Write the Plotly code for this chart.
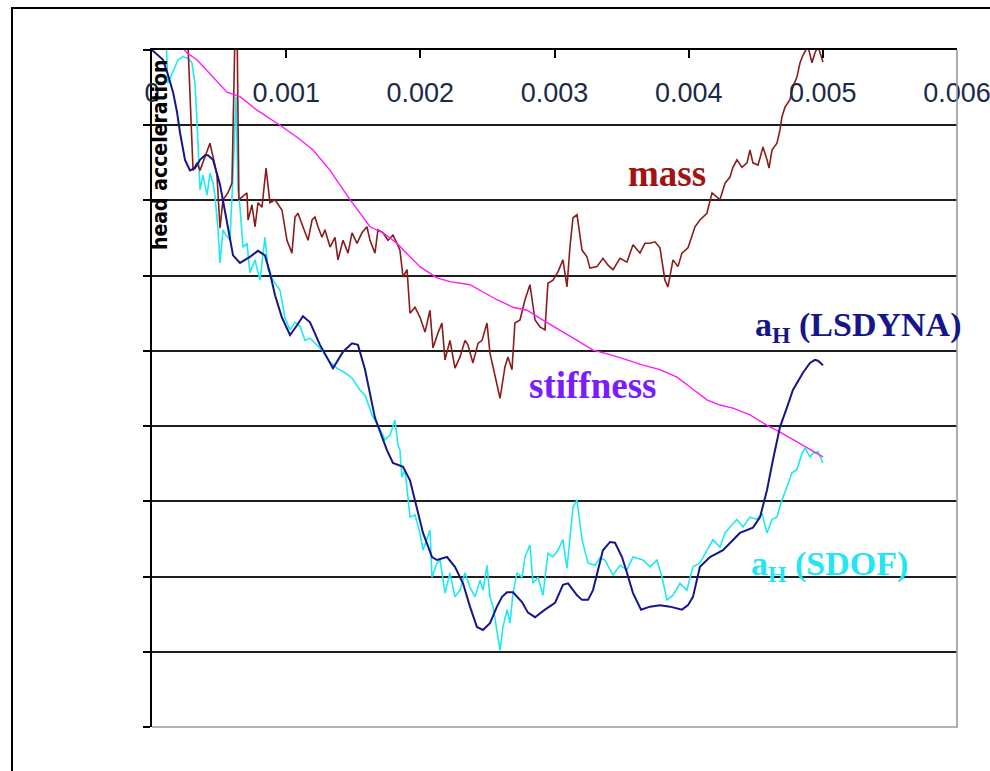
import plotly.graph_objects as go

# Time axis in milliseconds (converted to seconds when plotted), head acceleration in arbitrary units
# --- a_H (LSDYNA) ---
t_lsdyna = [0.0, 0.082, 0.119, 0.157, 0.186, 0.209, 0.246, 0.283, 0.320, 0.358, 0.395, 0.417, 0.455,
            0.507, 0.559, 0.604, 0.656, 0.730, 0.790, 0.842, 0.879, 0.917, 0.969, 1.029, 1.081, 1.125,
            1.178, 1.252, 1.349, 1.424, 1.491, 1.535, 1.588, 1.662, 1.722, 1.751, 1.796, 1.871, 1.923,
            1.975, 2.020, 2.087, 2.124, 2.199, 2.258, 2.318, 2.370, 2.422, 2.467, 2.519, 2.571, 2.609,
            2.646, 2.691, 2.758, 2.802, 2.855, 2.929, 3.004, 3.063, 3.101, 3.168, 3.205, 3.250, 3.287,
            3.361, 3.414, 3.451, 3.503, 3.540, 3.585, 3.645, 3.712, 3.786, 3.861, 3.950, 3.995, 4.032,
            4.084, 4.159, 4.256, 4.382, 4.479, 4.532, 4.584, 4.628, 4.681, 4.733, 4.777, 4.852, 4.904,
            4.941, 4.964, 5.001]
a_lsdyna = [0, -13, -33, -56, -82, -110, -146, -160, -157, -146, -140, -140, -146,
            -179, -229, -273, -283, -275, -267, -273, -296, -326, -356, -379, -366, -354,
            -362, -392, -423, -401, -390, -392, -425, -489, -518, -532, -549, -554, -572,
            -608, -642, -674, -678, -674, -687, -709, -740, -767, -771, -762, -740, -727,
            -721, -721, -734, -748, -754, -744, -735, -711, -709, -725, -731, -731, -718,
            -665, -654, -655, -674, -695, -722, -744, -740, -738, -740, -744, -738, -727,
            -687, -674, -665, -642, -635, -621, -585, -545, -501, -475, -452, -429, -416,
            -412, -413, -419]

# --- a_H (SDOF) ---
t_sdof = [0.0, 0.104, 0.119, 0.157, 0.194, 0.231, 0.268, 0.298, 0.320, 0.335, 0.350, 0.358, 0.380,
          0.410, 0.432, 0.455, 0.470, 0.492, 0.507, 0.529, 0.552, 0.581, 0.604, 0.626, 0.641, 0.656,
          0.678, 0.708, 0.730, 0.768, 0.805, 0.842, 0.865, 0.902, 0.954, 0.991, 1.029, 1.066, 1.103,
          1.140, 1.178, 1.215, 1.267, 1.327, 1.379, 1.438, 1.491, 1.550, 1.588, 1.640, 1.684, 1.737,
          1.774, 1.811, 1.833, 1.848, 1.863, 1.886, 1.923, 1.960, 1.997, 2.020, 2.072, 2.087, 2.124,
          2.147, 2.184, 2.221, 2.258, 2.296, 2.333, 2.370, 2.407, 2.445, 2.467, 2.497, 2.519, 2.542,
          2.571, 2.594, 2.616, 2.646, 2.668, 2.691, 2.720, 2.758, 2.780, 2.817, 2.840, 2.877, 2.914,
          2.951, 2.989, 3.026, 3.063, 3.093, 3.138, 3.168, 3.205, 3.250, 3.302, 3.339, 3.376, 3.436,
          3.488, 3.540, 3.585, 3.659, 3.712, 3.764, 3.801, 3.838, 3.883, 3.935, 3.987, 4.032, 4.084,
          4.136, 4.181, 4.233, 4.271, 4.308, 4.360, 4.405, 4.457, 4.509, 4.546, 4.584, 4.621, 4.658,
          4.695, 4.733, 4.770, 4.807, 4.845, 4.867, 4.904, 4.927, 4.964, 5.001]
a_sdof = [20, 16, -44, -27, -13, -9, -11, -17, -44, -93, -146, -186, -166,
          -193, -164, -177, -195, -239, -283, -239, -246, -253, -166, -62, -186, -209,
          -262, -257, -296, -279, -306, -249, -292, -306, -319, -356, -372, -362, -367,
          -386, -383, -390, -399, -415, -423, -429, -436, -452, -459, -485, -499, -518,
          -512, -492, -525, -532, -568, -558, -621, -618, -642, -665, -638, -701, -682,
          -678, -722, -695, -727, -718, -695, -714, -727, -705, -718, -685, -727, -740,
          -771, -798, -767, -744, -762, -722, -695, -701, -674, -658, -709, -701, -725,
          -669, -674, -665, -651, -689, -608, -598, -651, -682, -685, -675, -678, -698,
          -685, -691, -674, -678, -687, -678, -701, -731, -725, -709, -718, -687, -682,
          -665, -651, -661, -642, -634, -624, -634, -621, -624, -616, -642, -624, -621,
          -598, -581, -562, -558, -536, -529, -541, -536, -534, -549]

# --- stiffness ---
t_stiff = [0.209, 0.261, 0.335, 0.455, 0.559, 0.656, 0.783, 0.954, 1.081, 1.200, 1.327, 1.476, 1.625,
           1.722, 1.826, 1.923, 1.997, 2.124, 2.221, 2.370, 2.467, 2.571, 2.691, 2.795, 2.914, 3.041,
           3.168, 3.287, 3.414, 3.540, 3.659, 3.786, 3.913, 4.010, 4.136, 4.233, 4.330, 4.457, 4.584,
           4.681, 4.777, 4.882, 5.001]
a_stiff = [7, -4, -13, -36, -56, -62, -80, -100, -116, -133, -160, -199, -235,
           -243, -257, -275, -288, -303, -308, -312, -322, -332, -342, -346, -359, -372,
           -386, -399, -405, -412, -419, -425, -435, -448, -465, -472, -476, -485, -499,
           -508, -518, -528, -541]

# --- mass ---
t_mass = [0.060, 0.171, 0.268, 0.306, 0.335, 0.358, 0.395, 0.432, 0.455, 0.484, 0.507, 0.529, 0.566,
          0.596, 0.619, 0.634, 0.648, 0.678, 0.708, 0.716, 0.745, 0.768, 0.790, 0.820, 0.850, 0.879,
          0.917, 0.932, 0.969, 1.006, 1.043, 1.066, 1.088, 1.125, 1.163, 1.193, 1.215, 1.237, 1.267,
          1.289, 1.327, 1.364, 1.386, 1.424, 1.461, 1.491, 1.528, 1.565, 1.602, 1.625, 1.662, 1.684,
          1.722, 1.759, 1.796, 1.826, 1.848, 1.871, 1.901, 1.923, 1.960, 1.997, 2.035, 2.072, 2.094,
          2.132, 2.161, 2.184, 2.221, 2.258, 2.296, 2.333, 2.355, 2.392, 2.430, 2.460, 2.497, 2.519,
          2.556, 2.594, 2.631, 2.653, 2.683, 2.705, 2.743, 2.780, 2.817, 2.855, 2.892, 2.929, 2.951,
          2.989, 3.026, 3.063, 3.093, 3.115, 3.138, 3.168, 3.205, 3.242, 3.264, 3.317, 3.361, 3.399,
          3.436, 3.488, 3.540, 3.585, 3.637, 3.674, 3.712, 3.749, 3.786, 3.823, 3.846, 3.883, 3.920,
          3.950, 3.995, 4.047, 4.084, 4.136, 4.174, 4.211, 4.233, 4.271, 4.308, 4.330, 4.360, 4.397,
          4.435, 4.457, 4.479, 4.517, 4.554, 4.584, 4.599, 4.621, 4.658, 4.681, 4.695, 4.718, 4.755,
          4.777, 4.807, 4.830, 4.852, 4.889, 4.919, 4.941, 4.964, 5.001]
a_mass = [13, 11, 8, -160, -150, -160, -142, -124, -142, -166, -237, -199, -190,
          -177, 27, 27, -199, -195, -190, -226, -206, -235, -203, -209, -157, -203,
          -199, -203, -213, -253, -270, -222, -217, -235, -253, -226, -222, -235, -249,
          -239, -262, -249, -279, -253, -270, -243, -257, -243, -235, -253, -270, -239,
          -243, -253, -246, -257, -266, -302, -292, -350, -342, -355, -375, -346, -396,
          -376, -363, -412, -386, -423, -408, -386, -392, -416, -390, -386, -363, -403,
          -435, -463, -421, -408, -425, -363, -359, -332, -312, -359, -368, -372, -310,
          -306, -295, -279, -315, -262, -223, -219, -266, -275, -290, -288, -277, -286,
          -292, -277, -282, -259, -270, -257, -257, -255, -263, -306, -315, -279, -288,
          -270, -263, -235, -226, -217, -190, -195, -199, -177, -169, -156, -146, -156,
          -150, -133, -150, -153, -129, -146, -157, -133, -124, -106, -89, -76, -66,
          -49, -36, -17, -7, 5, -17, -4, 5, -16]

x_ticks = [0, 0.001, 0.002, 0.003, 0.004, 0.005, 0.006]
x_tick_text = ["0", "0.001", "0.002", "0.003", "0.004", "0.005", "0.006"]

series = [
    (t_sdof, a_sdof, "a_H (SDOF)", "#1fe8f2", 1.6),
    (t_mass, a_mass, "mass", "#8b1c1c", 1.6),
    (t_stiff, a_stiff, "stiffness", "#ff19ff", 1.4),
    (t_lsdyna, a_lsdyna, "a_H (LSDYNA)", "#16168a", 2.0),
]

fig = go.Figure()
for t, a, name, color, w in series:
    fig.add_trace(go.Scatter(
        x=[v / 1000 for v in t], y=a, mode="lines", name=name,
        line=dict(color=color, width=w), showlegend=False,
    ))

serif = "Liberation Serif, Times New Roman, serif"
labels = [
    ("mass", 0.003839, -164, "#a01414", 37),
    ("stiffness", 0.003280, -446, "#7a1cff", 37),
    ("a<sub>H</sub> (LSDYNA)", 0.005260, -368, "#16168a", 34),
    ("a<sub>H</sub> (SDOF)", 0.005050, -686, "#22e6f0", 34),
]
for text, x, y, color, size in labels:
    fig.add_annotation(x=x, y=y, text=text, showarrow=False,
                       font=dict(family=serif, size=size, color=color, weight="bold"))

fig.add_annotation(
    xref="paper", yref="paper", x=0.0099, y=0.845, xanchor="center", yanchor="middle",
    text="head acceleration", textangle=-90, showarrow=False,
    font=dict(family="Liberation Sans Narrow, Arial Narrow, DejaVu Sans Condensed, sans-serif",
              size=21, color="black", weight="bold"),
)

# grey right / bottom frame of the plot area
fig.add_shape(type="path", xref="paper", yref="paper",
              path="M 1 1 L 1 0 L 0 0", line=dict(color="#9a9a9a", width=1.6), layer="above")
# outer chart border
fig.add_shape(type="rect", xref="paper", yref="paper",
              x0=-0.1739, x1=1.06, y0=-0.09, y1=1.062, line=dict(color="black", width=2))

fig.update_xaxes(
    side="top", range=[0, 0.006], tickvals=x_ticks, ticktext=x_tick_text,
    showgrid=False, zeroline=False, showline=True, linecolor="black", linewidth=1.6,
    ticks="inside", ticklen=8, tickcolor="black", tickwidth=1.5,
    ticklabelposition="inside", ticklabelstandoff=28, ticklabeloverflow="allow",
    tickfont=dict(family="Liberation Sans, Arial, sans-serif", size=27, color="#1b2a4a"),
    automargin=False,
)
fig.update_yaxes(
    range=[-900, 0], dtick=100, showticklabels=False, zeroline=False,
    showgrid=True, gridcolor="#1e1e1e", gridwidth=1.6,
    showline=True, linecolor="black", linewidth=1.6,
    ticks="outside", ticklen=7, tickcolor="black", tickwidth=1.5,
    automargin=False,
)
fig.update_layout(
    width=990, height=771, autosize=False,
    margin=dict(l=152, r=33, t=50, b=44, autoexpand=False),
    paper_bgcolor="white", plot_bgcolor="white",
)

fig.write_html("out.html")
